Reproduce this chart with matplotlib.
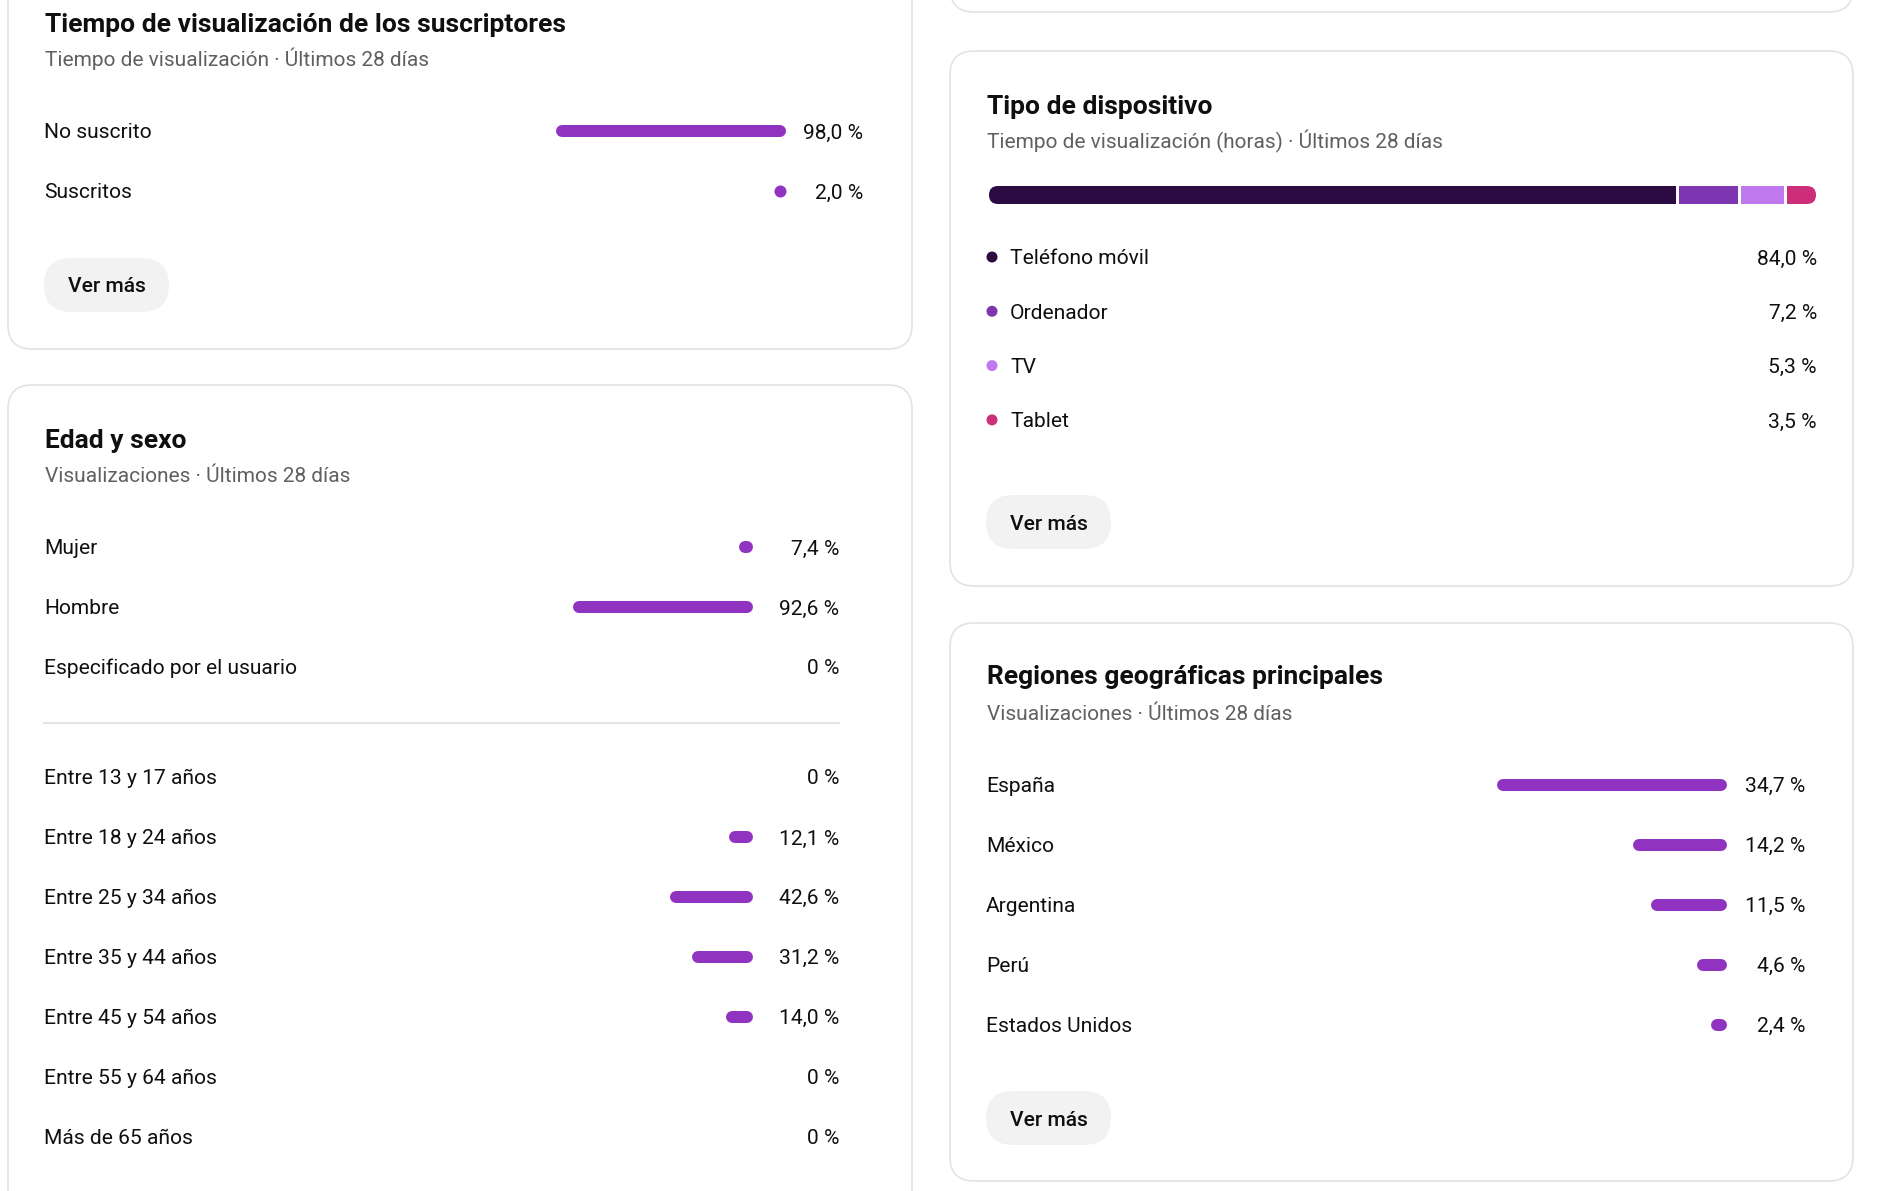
import numpy as np
import matplotlib.pyplot as plt
from matplotlib.patches import FancyBboxPatch, Circle

W, H = 1902, 1191

# --- data ---
subs_labels = ["No suscrito", "Suscritos"]
subs_values = [98.0, 2.0]

gender_labels = ["Mujer", "Hombre", "Especificado por el usuario"]
gender_values = [7.4, 92.6, 0.0]

age_labels = ["Entre 13 y 17 años", "Entre 18 y 24 años", "Entre 25 y 34 años",
              "Entre 35 y 44 años", "Entre 45 y 54 años", "Entre 55 y 64 años",
              "Más de 65 años"]
age_values = [0.0, 12.1, 42.6, 31.2, 14.0, 0.0, 0.0]

device_labels = ["Teléfono móvil", "Ordenador", "TV", "Tablet"]
device_values = [84.0, 7.2, 5.3, 3.5]
device_colors = ["#2b0b41", "#7e35b1", "#c078ef", "#cc2e7a"]

region_labels = ["España", "México", "Argentina", "Perú", "Estados Unidos"]
region_values = [34.7, 14.2, 11.5, 4.6, 2.4]

INK = "#0f0f0f"
GREY = "#606060"
PURPLE = "#9033c0"
LINE = "#e3e3e3"
BODY = 15.1
plt.rcParams['font.family'] = ['Roboto', 'DejaVu Sans']


def fmt(v):
    if v == 0:
        return "0 %"
    return f"{v:.1f}".replace(".", ",") + " %"


fig = plt.figure(figsize=(W / 100, H / 100), dpi=100)
bg = fig.add_axes([0, 0, 1, 1])
bg.set_xlim(0, W)
bg.set_ylim(H, 0)
bg.axis('off')


def card(x0, y0, x1, y1):
    bg.add_patch(FancyBboxPatch((x0, y0), x1 - x0, y1 - y0,
                                boxstyle="round,pad=0,rounding_size=24",
                                fc="white", ec=LINE, lw=1.2))


def header(x, y, title, sub, gap=34):
    bg.text(x, y, title, fontsize=19, fontweight='bold', color=INK, va='baseline')
    bg.text(x, y + gap, sub, fontsize=15.05, color=GREY, va='baseline')


def button(x, y):
    bg.add_patch(FancyBboxPatch((x, y), 125, 54,
                                boxstyle="round,pad=0,rounding_size=27",
                                fc="#f2f2f2", ec="none"))
    bg.text(x + 62.5, y + 34.5, "Ver más", fontsize=BODY, fontweight='medium',
            color=INK, ha='center', va='baseline')


def rows(x_lab, x_val, y0, step, labels, values):
    for i, (lab, v) in enumerate(zip(labels, values)):
        y = y0 + i * step + 7.5
        bg.text(x_lab, y, lab, fontsize=BODY, color=INK, va='baseline')
        bg.text(x_val, y, fmt(v), fontsize=BODY, color=INK, va='baseline', ha='right')


def bars(x_right, px_per_pct, y0, step, values, thick=12):
    n = len(values)
    top = y0 - step / 2
    ax = fig.add_axes([(x_right - px_per_pct * 100) / W, 1 - (top + n * step) / H,
                       px_per_pct * 100 / W, n * step / H])
    ax.set_xlim(100, 0)
    ax.set_ylim(n - 0.5, -0.5)
    ax.axis('off')
    ax.patch.set_visible(False)
    r = thick / 2 / px_per_pct
    for i, v in enumerate(values):
        if v <= 0:
            continue
        if v <= 2 * r:
            # too short for a bar: drawn as a round dot
            ax.plot([r], [i], 'o', ms=thick * 0.72, color=PURPLE, mew=0, clip_on=False)
        else:
            ax.hlines(i, r, v - r, lw=thick * 0.72, color=PURPLE,
                      capstyle='round', clip_on=False)


# cards
card(8, -100, 912, 349)
card(8, 385, 912, 1300)
card(950, -100, 1853, 12)
card(950, 51, 1853, 586)
card(950, 623, 1853, 1181)

# subscribers watch time
header(45, 32, "Tiempo de visualización de los suscriptores",
       "Tiempo de visualización · Últimos 28 días")
rows(44, 863, 131, 60, subs_labels, subs_values)
bars(786, 230 / 98.0, 131, 60, subs_values)
button(44, 258)

# age and gender
header(45, 448, "Edad y sexo", "Visualizaciones · Últimos 28 días")
rows(44, 839, 547, 60, gender_labels, gender_values)
bars(753, 180 / 92.6, 547, 60, gender_values)
bg.plot([44, 839], [723, 723], color=LINE, lw=1.5)
rows(44, 839, 777, 59.9, age_labels, age_values)
bars(753, 180 / 92.6, 777, 59.9, age_values)

# device type: stacked bar with small white gaps between segments
header(987, 114, "Tipo de dispositivo", "Tiempo de visualización (horas) · Últimos 28 días")
bar_px, gap_px = 827, 3
k = (bar_px - gap_px * (len(device_values) - 1)) / 100.0
gap_u = gap_px / k
dax = fig.add_axes([989 / W, 1 - 204 / H, bar_px / W, 18 / H])
dax.set_xlim(0, 100 + gap_u * (len(device_values) - 1))
dax.set_ylim(-0.5, 0.5)
dax.axis('off')
dax.patch.set_visible(False)
lefts = np.concatenate([[0], np.cumsum(device_values)[:-1]]) + gap_u * np.arange(len(device_values))
segs = dax.barh(0, device_values, left=lefts, height=1, color=device_colors, lw=0)
clip = FancyBboxPatch((989, 186), bar_px, 18, boxstyle="round,pad=0,rounding_size=9",
                      transform=bg.transData, fc='none', ec='none')
for s in segs:
    s.set_clip_path(clip)

for i, (lab, v, c) in enumerate(zip(device_labels, device_values, device_colors)):
    y = 257 + i * 54.3
    bg.add_patch(Circle((992, y), 5.5, fc=c, ec='none'))
    bg.text(1010, y + 7.5, lab, fontsize=BODY, color=INK, va='baseline')
    bg.text(1817, y + 7.5, fmt(v), fontsize=BODY, color=INK, va='baseline', ha='right')
button(986, 495)

# top regions
header(987, 684, "Regiones geográficas principales", "Visualizaciones · Últimos 28 días", gap=36)
rows(986, 1805, 784.5, 60, region_labels, region_values)
bars(1727, 230 / 34.7, 784.5, 60, region_values)
button(986, 1091)

fig.savefig("out.png", dpi=100, facecolor="white")
